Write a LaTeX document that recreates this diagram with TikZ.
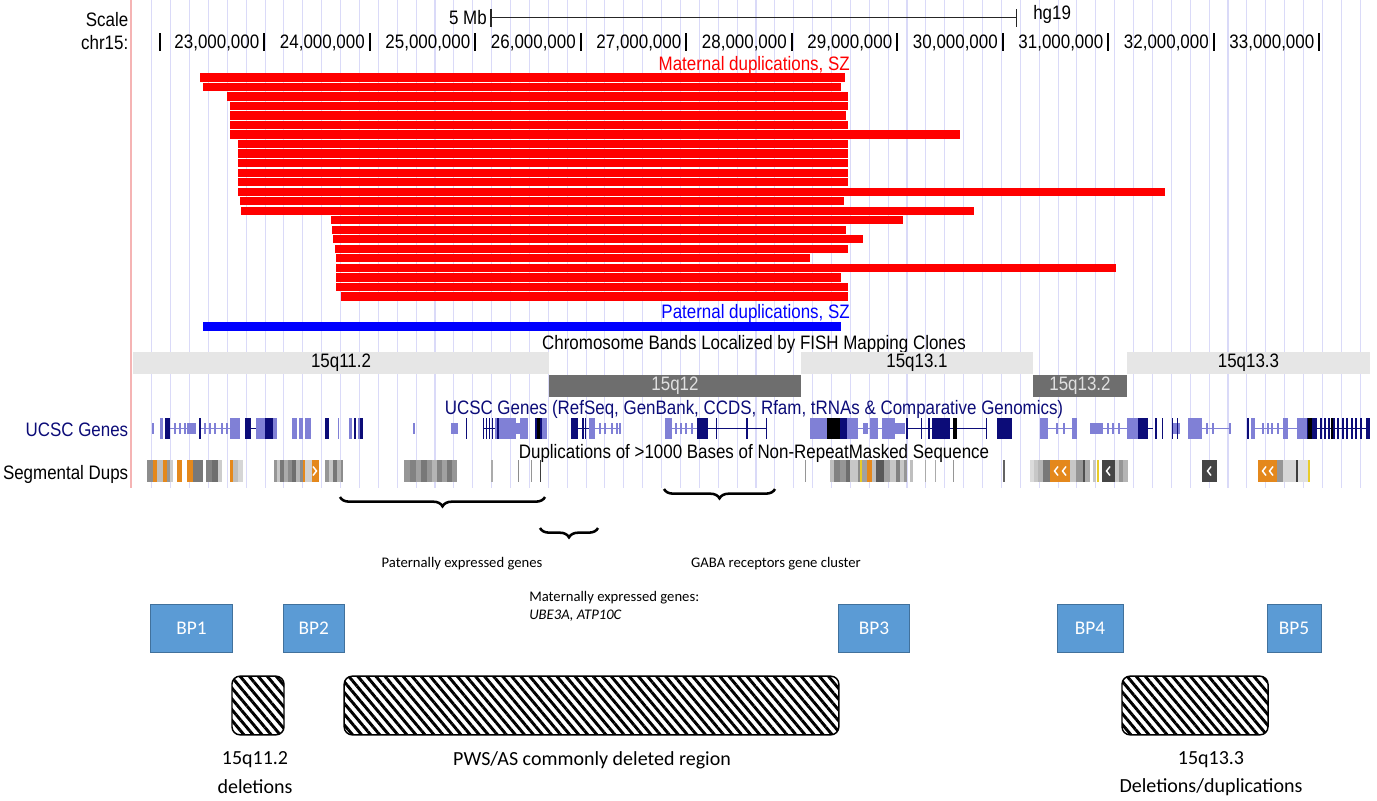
\documentclass[tikz,border=0pt]{standalone}
\usepackage{fontspec}
\setmainfont{Liberation Sans}
\newfontfamily\ucscfont[FakeStretch=0.87]{Liberation Sans}
\newfontfamily\calfont{Carlito}
\usetikzlibrary{decorations.pathreplacing,patterns.meta}
\definecolor{ucscnavy}{RGB}{12,12,120}
\definecolor{genelight}{RGB}{128,128,214}
\definecolor{gridlav}{RGB}{218,218,248}
\definecolor{edgepink}{RGB}{245,180,180}
\definecolor{bandlight}{RGB}{230,230,230}
\definecolor{banddark}{RGB}{110,110,110}
\definecolor{sdorange}{RGB}{228,136,28}
\definecolor{sdyellow}{RGB}{232,204,40}
\definecolor{bpblue}{RGB}{91,155,213}
\definecolor{bpedge}{RGB}{65,113,156}
\newcommand{\exon}[3]{\fill[#3] (#1,418) rectangle (#2,439);}
\newcommand{\utr}[3]{\fill[#3] (#1,423) rectangle (#2,434);}
\newcommand{\intron}[3]{\draw[#3,line width=0.7pt] (#1,428.5) -- (#2,428.5);}
\newcommand{\segdup}[3]{\fill[#3] (#1,460) rectangle (#2,482);}
\newcommand{\chevl}[1]{\draw[white,line width=1.1pt] (#1+2,466.5) -- (#1-1.5,471) -- (#1+2,475.5);}
\newcommand{\chevr}[1]{\draw[white,line width=1.1pt] (#1-2,466.5) -- (#1+1.5,471) -- (#1-2,475.5);}

\begin{document}
\begin{tikzpicture}[x=0.75pt,y=-0.75pt,
  ucsc/.style={font=\ucscfont\fontsize{14.6}{17}\selectfont,inner sep=0pt},
  cal/.style={font=\calfont\fontsize{11}{14}\selectfont,inner sep=0pt},
  calbig/.style={font=\calfont\fontsize{15}{20}\selectfont,inner sep=0pt},
  gridline/.style={gridlav,line width=0.8pt},
  ruler/.style={line width=0.9pt,black!85},
  tickmark/.style={line width=1.5pt},
  darklab/.style={ucsc,text=black!12},
  bpbox/.style={draw=bpedge,fill=bpblue,line width=0.6pt,minimum height=36pt,inner sep=0pt,text=white,font=\calfont\fontsize{14.5}{16}\selectfont},
  delbox/.style={draw,line width=1.1pt,rounded corners=6pt,minimum height=44pt,inner sep=0pt,pattern={Lines[angle=-50,distance=5.2pt,line width=2.2pt]}},
  brc/.style={decorate,decoration={brace,mirror,amplitude=7pt},line width=1.9pt}]
  \useasboundingbox (0,0) rectangle (1377,800);
  \fill[white] (0,0) rectangle (1377,800);
  \foreach \i in {0,...,64} \draw[gridline] ({151.8+18.88*\i},0) -- ({151.8+18.88*\i},488);
  \draw[edgepink,line width=1pt] (131,0) -- (131,488);

  \node[ucsc,anchor=east] (scale) at (128.5,20) {Scale};
  \node[ucsc,anchor=east] (chr) at (128.5,43) {chr15:};
  \node[ucsc,anchor=east] (mb) at (487,18) {5 Mb};
  \node[ucsc,anchor=west] (hg) at (1033,14) {hg19};
  \coordinate (sbl) at (491,17.5);
  \coordinate (sbr) at (1016.5,17.5);
  \draw[ruler] (sbl) -- (sbr);
  \draw[ruler] (491,9) -- (491,27);
  \draw[ruler] (1016.5,9) -- (1016.5,27);
  \draw[tickmark] (160,33) -- (160,51);
  \foreach \m in {23,...,33} {
    \draw[tickmark] ({264.3+105.5*(\m-23)},33) -- ++(0,17.5);
    \node[ucsc,anchor=east] (pos\m) at ({259.5+105.5*(\m-23)},43) {\m,000,000};
  }

  \node[ucsc,text=red,anchor=east] (matlab) at (850,65) {Maternal duplications, SZ};
  \foreach \l/\r [count=\i from 0] in {200/845,203/841,226.7/847.6,230/847.6,230/846,230/847.6,230/959.7,238/847.6,238/847.6,238/847.6,238/847.6,238/847.6,238/1164.5,239.7/844,241.3/974,331.3/903,331.7/846,333.3/863,335/847.6,336.3/809.7,336.3/1115.5,336.3/841,336.3/847.6,341.3/847.6}
    {\fill[red] (\l,{73.3+9.52*\i}) rectangle (\r,{81.6+9.52*\i});}
  \node[ucsc,text=blue,anchor=east] (patlab) at (850,313) {Paternal duplications, SZ};
  \fill[blue] (203,322.3) rectangle (841,330.7);

  \node[ucsc] (bandtitle) at (754,344) {Chromosome Bands Localized by FISH Mapping Clones};
  \fill[bandlight] (133,352) rectangle (549,374);
  \fill[banddark] (549,375) rectangle (801,397);
  \fill[bandlight] (801,352) rectangle (1033,374);
  \fill[banddark] (1033,375) rectangle (1127,397);
  \fill[bandlight] (1127,352) rectangle (1370,374);
  \node[ucsc] (q112) at (341,363) {15q11.2};
  \node[darklab] (q12) at (675,386) {15q12};
  \node[ucsc] (q131) at (917,363) {15q13.1};
  \node[darklab] (q132) at (1080,386) {15q13.2};
  \node[ucsc] (q133) at (1248.5,363) {15q13.3};

  \node[ucsc,text=ucscnavy] (genetitle) at (754,409) {UCSC Genes (RefSeq, GenBank, CCDS, Rfam, tRNAs \& Comparative Genomics)};
  \node[ucsc,text=ucscnavy,anchor=east] (genelab) at (128.5,430) {UCSC Genes};
  \foreach \a/\b in {169.5/187,201/233,595/620,671.7/697,1048/1072,1103/1126.7,1201.7/1230,1255/1283,1288/1297,858/870,878/882}
    {\intron{\a}{\b}{genelight}}
  \foreach \a/\b in {251/256,484/497,578.3/589,708/767,907/931.7,950/987,1148/1153,1316.7/1370}
    {\intron{\a}{\b}{ucscnavy}}
  \foreach \t in {175,180,185,205,210,215,222,227,600,605,612,617,620,676,681,686,692,1057,1064,1108,1113,1119,1207,1213,1230,1263,1268,1272,1278}
    {\draw[genelight,line width=0.9pt] (\t,423) -- (\t,434);}
  \foreach \a/\b in {152/154,187/196,413/414.5,450.7/458.3,516/520,863/868,895/905,1090/1103,1173/1180}
    {\utr{\a}{\b}{genelight}}
  \foreach \a/\b in {160/162.5,230/240,256/265,273/276.7,292/297,299/303,305/311,337.7/339,349/352,358/360,495/516,520/528,541.7/547,589/595,665/671.7,810/826.7,846.7/858,870/878,882/895,1040/1048,1071.7/1077,1126.7/1138,1188/1201.7,1251/1255,1283/1288,1297/1306.7}
    {\exon{\a}{\b}{genelight}}
  \foreach \a/\b in {165/169.5,199/201,245/251,265/273,325/329,354/356,360/362.5,466/467.3,482.7/484,486/487,489/490,491.5/492.5,497/499,535/541.7,571/578.3,582/583.5,585/586,697/708,715.5/717,746/747.5,765.5/767,840/846.7,906/907.5,921/922,928/929.5,931.7/950,985.5/987,996.7/1011.7,1138/1148,1155/1157.3,1161.7/1163.3,1171.7/1173.3,1177/1178,1247/1248.5,1306.7/1316.7,1320/1321.6,1324/1325.6,1328/1329.6,1333/1334.6,1337/1338.6,1342/1343.6,1346/1347.6,1351/1352.6,1355/1356.6,1360/1361.6,1366/1370}
    {\exon{\a}{\b}{ucscnavy}}
  \foreach \a/\b in {536.7/540,826.7/840,953.3/956.7,1308/1312,1331/1333}
    {\exon{\a}{\b}{black}}

  \node[ucsc] (duptitle) at (754,453) {Duplications of >1000 Bases of Non-RepeatMasked Sequence};
  \node[ucsc,anchor=east] (duplab) at (128.5,474) {Segmental Dups};
  \foreach \a/\b/\c in {147.3/152.7/black!45,152.7/156.7/sdorange,156.7/163.3/black!25,163.3/166.7/sdorange,166.7/170/black!41,170/173.3/black!20,
    176.7/182.3/sdorange,187.3/193.3/sdorange,193.3/203.3/black!53,206/211.7/black!49,211.7/218.3/black!57,218.3/221.7/black!20,
    230/233.3/sdorange,233.3/238.3/black!25,238.3/243.3/black!16,
    274/277/black!41,277/280/black!22,280/284/black!53,284/288/black!33,288/292/black!45,292/296/black!57,296/300/black!29,300/303/black!45,
    303/304.5/sdorange,304.5/311.7/black!18,311.7/319.3/sdorange,
    325/329/black!41,329/333/black!22,333/337/black!53,337/341/black!29,341/343.3/black!45,
    404/410/black!41,410/416/black!49,416/421/black!37,421/427/black!53,427/432/black!41,432/437/black!29,437/442/black!49,442/447/black!37,447/452/black!53,452/456.7/black!41,
    491.3/492.5/black!33,518/519.2/black!45,531/532.2/black!41,539.5/541/black!76,805/806/black!41,
    830/834/black!25,834/840/black!49,840/846/black!41,846/850/black!57,850/858/black!22,858/860/black!45,860/861.5/sdyellow,861.5/866.7/black!37,866.7/871.7/sdorange,871.7/876/black!25,876/884/black!65,884/890/black!37,890/896/black!22,896/900/black!49,900/904/black!22,904/907/black!41,910/913/black!25,
    925/926/black!33,935/936/black!33,953/954/black!41,1003/1004.5/black!61,
    1030/1034/black!14,1034/1038/black!22,1038/1043/black!29,1043/1050/black!53,1050/1070/sdorange,1070/1076/black!22,1076/1083/black!41,1083/1085/black!69,1085/1090/black!33,1093/1096/black!22,1096.7/1098.5/sdyellow,1101.7/1115/black!73,1115/1119/black!22,1119/1123/black!41,1123/1128/black!29,
    1201.7/1216.7/black!73,1258.3/1276.7/sdorange,1276.7/1283.3/black!41,1283.3/1296/black!16,1296/1297.5/black!76,1297.5/1308/black!12,1308/1309.5/sdyellow}
    {\segdup{\a}{\b}{\c}}
  \foreach \x in {1056,1064,1108,1209,1264,1271} {\chevl{\x}}
  \chevr{315}

  \coordinate (pata) at (340,497);
  \coordinate (patb) at (545,497);
  \coordinate (mata) at (540,528);
  \coordinate (matb) at (598,528);
  \coordinate (gabaa) at (664,489);
  \coordinate (gabab) at (775,489);
  \draw[brc] (pata) -- (patb);
  \draw[brc] (mata) -- (matb);
  \draw[brc] (gabaa) -- (gabab);
  \node[cal] (patgenes) at (462,564) {Paternally expressed genes};
  \node[cal] (gabagenes) at (776,564) {GABA receptors gene cluster};
  \node[cal,anchor=west] (matgenes) at (529,598) {Maternally expressed genes:};
  \node[cal,anchor=west] (matnames) at (529,616) {\itshape UBE3A, ATP10C};

  \node[bpbox,minimum width=62pt] (bp1) at (191.5,628) {BP1};
  \node[bpbox,minimum width=46pt] (bp2) at (313.7,628) {BP2};
  \node[bpbox,minimum width=52.7pt] (bp3) at (874,628) {BP3};
  \node[bpbox,minimum width=49.5pt] (bp4) at (1090,628) {BP4};
  \node[bpbox,minimum width=40.5pt] (bp5) at (1294,628) {BP5};

  \node[delbox,minimum width=39pt] (del1) at (258,705.5) {};
  \node[delbox,minimum width=371pt] (del2) at (591.5,705.5) {};
  \node[delbox,minimum width=109.5pt] (del3) at (1195,705.5) {};

  \node[calbig] (del1a) at (255,760) {15q11.2};
  \node[calbig] (del1b) at (255,787) {deletions};
  \node[calbig] (del2a) at (592,760) {PWS/AS commonly deleted region};
  \node[calbig] (del3a) at (1211,760) {15q13.3};
  \node[calbig] (del3b) at (1211,787) {Deletions/duplications};
\end{tikzpicture}
\end{document}
